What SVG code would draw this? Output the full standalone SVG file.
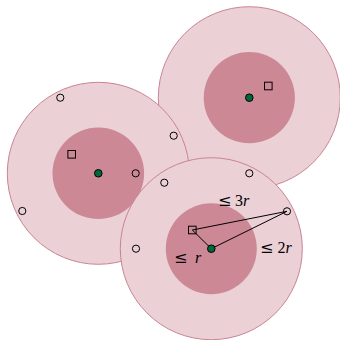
<svg xmlns="http://www.w3.org/2000/svg" width="340" height="340" viewBox="0 0 340 340">
<style>
.outer{fill:#ebd0d6;stroke:#c98494;stroke-width:1}
.inner{fill:#cd8896;stroke:none}
.ctr{fill:#00673a;stroke:#000;stroke-width:1}
.pt{fill:none;stroke:#000;stroke-width:1}
.sq{fill:none;stroke:#000;stroke-width:1}
.lbl{font-family:"DejaVu Serif","Liberation Serif",serif;font-size:14px;fill:#000}
.lbl tspan.le{font-size:16px}
.lbl tspan.v{font-style:italic;font-family:"Liberation Serif","DejaVu Serif",serif;font-size:16px}
.lbl tspan.n{font-family:"Liberation Serif","DejaVu Serif",serif;font-size:16px}
.edge{stroke:#000;stroke-width:1;fill:none}
</style>
<rect width="340" height="340" fill="#fff"/>
<g id="disk2">
<circle class="outer" cx="249.3" cy="97.7" r="91"/>
<circle class="inner" cx="249.3" cy="97.7" r="45.6"/>
</g>
<g id="disk1">
<circle class="outer" cx="98.3" cy="173.3" r="91"/>
<circle class="inner" cx="98.3" cy="173.3" r="45.8"/>
</g>
<g id="disk3">
<circle class="outer" cx="211.3" cy="248.7" r="91"/>
<circle class="inner" cx="211.3" cy="248.7" r="45.5"/>
</g>
<g id="connectors">
<line class="edge" x1="192.3" y1="230" x2="287" y2="211.3"/>
<line class="edge" x1="192.3" y1="230" x2="211.3" y2="248.7"/>
<line class="edge" x1="211.3" y1="248.7" x2="287" y2="211.3"/>
</g>
<g id="points">
<circle class="pt" cx="60.3" cy="97.7" r="3.6"/>
<circle class="pt" cx="173.7" cy="135.7" r="3.6"/>
<circle class="pt" cx="135.7" cy="173.3" r="3.6"/>
<circle class="pt" cx="164.3" cy="182.7" r="3.6"/>
<circle class="pt" cx="22.3" cy="211" r="3.6"/>
<circle class="pt" cx="249.3" cy="173.3" r="3.6"/>
<circle class="pt" cx="136" cy="248.7" r="3.6"/>
<circle class="pt" cx="287" cy="211.3" r="3.6"/>
<rect class="sq" x="67.9" y="150.5" width="7.6" height="7.6"/>
<rect class="sq" x="264.5" y="82.2" width="7.6" height="7.6"/>
<rect class="sq" x="188.5" y="226.2" width="7.6" height="7.6"/>
</g>
<g id="centers">
<circle class="ctr" cx="98.3" cy="173.3" r="3.8"/>
<circle class="ctr" cx="249.3" cy="97.7" r="3.8"/>
<circle class="ctr" cx="211.3" cy="248.7" r="3.8"/>
</g>
<g id="labels">
<text class="lbl" y="206"><tspan class="le" x="218">≤</tspan><tspan class="n" x="235">3</tspan><tspan class="v" x="243">r</tspan></text>
<text class="lbl" y="253"><tspan class="le" x="260">≤</tspan><tspan class="n" x="277.5">2</tspan><tspan class="v" x="285.5">r</tspan></text>
<text class="lbl" y="263"><tspan class="le" x="174">≤</tspan><tspan class="v" x="195">r</tspan></text>
</g>
</svg>
